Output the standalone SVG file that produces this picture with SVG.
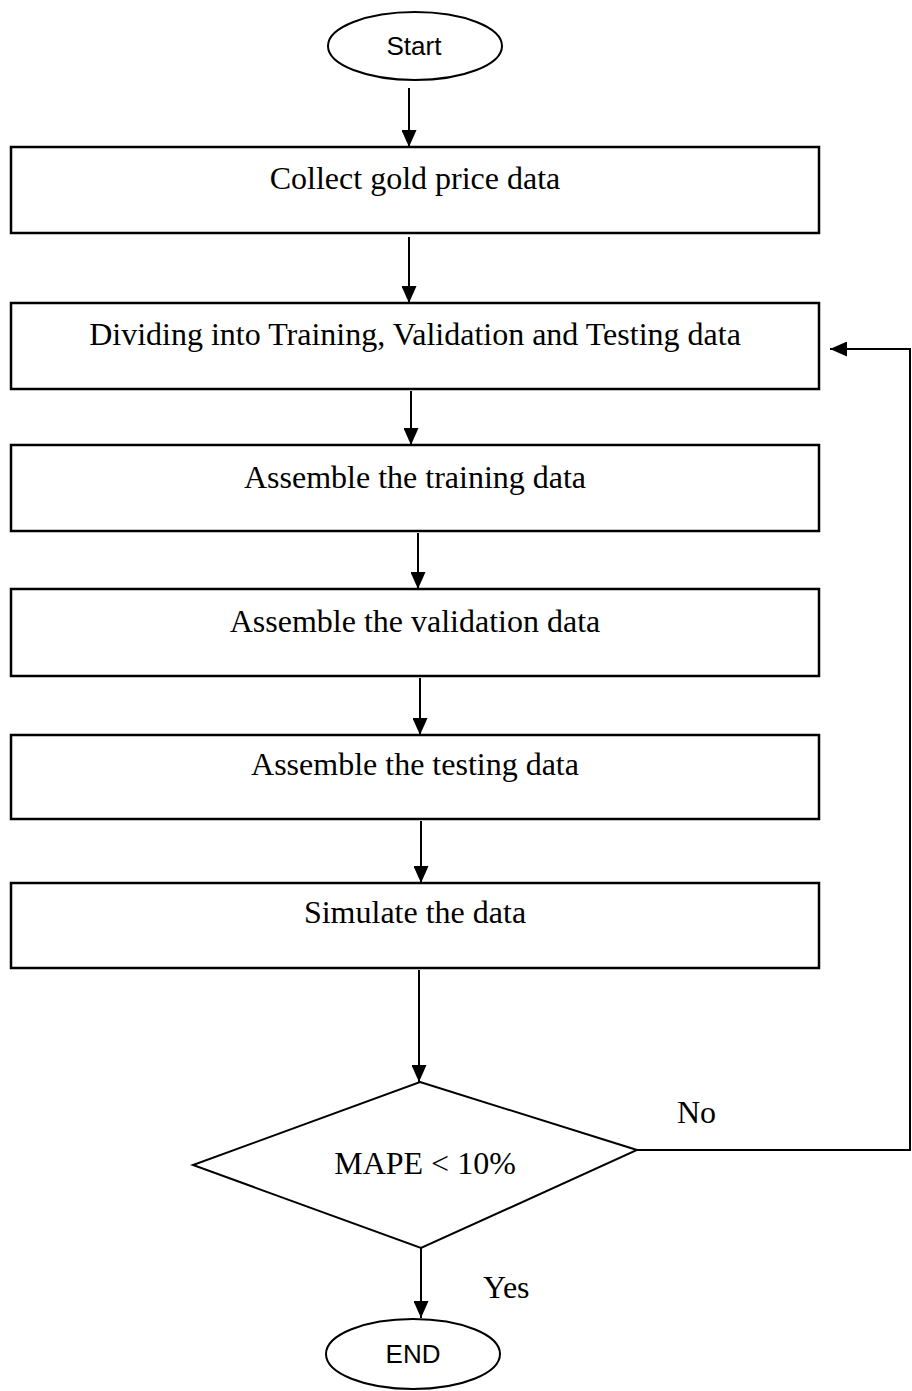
<svg xmlns="http://www.w3.org/2000/svg" width="912" height="1391" viewBox="0 0 912 1391">
<style>
.box{fill:#fff;stroke:#000;stroke-width:2.5}
.term{fill:#fff;stroke:#000;stroke-width:2}
.t{font-family:"Liberation Serif","Times New Roman",serif;font-size:32px;fill:#000;text-anchor:middle}
.s{font-family:"Liberation Sans",Arial,sans-serif;font-size:26px;fill:#000;text-anchor:middle}
.c{fill:none;stroke:#000;stroke-width:2}
</style>
<defs>
<marker id="ah" markerUnits="userSpaceOnUse" markerWidth="17" markerHeight="15" refX="17" refY="7.5" orient="auto">
<path d="M0,0 L17,7.5 L0,15 z" fill="#000"/>
</marker>
</defs>
<rect width="912" height="1391" fill="#fff"/>
<g id="connectors">
<line class="c" x1="409" y1="88" x2="409" y2="147" marker-end="url(#ah)"/>
<line class="c" x1="409" y1="237" x2="409" y2="303" marker-end="url(#ah)"/>
<line class="c" x1="411" y1="391" x2="411" y2="445" marker-end="url(#ah)"/>
<line class="c" x1="418" y1="533" x2="418" y2="589" marker-end="url(#ah)"/>
<line class="c" x1="420" y1="678" x2="420" y2="735" marker-end="url(#ah)"/>
<line class="c" x1="421" y1="821" x2="421" y2="883" marker-end="url(#ah)"/>
<line class="c" x1="419" y1="970" x2="419" y2="1082" marker-end="url(#ah)"/>
<line class="c" x1="421" y1="1248" x2="421" y2="1318" marker-end="url(#ah)"/>
<polyline class="c" points="637,1150 910,1150 910,349 830,349" marker-end="url(#ah)"/>
<text class="t" x="677" y="1123" style="text-anchor:start">No</text>
<text class="t" x="483" y="1298" style="text-anchor:start">Yes</text>
</g>
<g id="start">
<ellipse class="term" cx="415" cy="46" rx="87" ry="34"/>
<text class="s" x="414" y="55">Start</text>
</g>
<g id="collect">
<rect class="box" x="11" y="147" width="808" height="86"/>
<text class="t" x="415" y="189">Collect gold price data</text>
</g>
<g id="divide">
<rect class="box" x="11" y="303" width="808" height="86"/>
<text class="t" x="415" y="345">Dividing into Training, Validation and Testing data</text>
</g>
<g id="training">
<rect class="box" x="11" y="445" width="808" height="86"/>
<text class="t" x="415" y="488">Assemble the training data</text>
</g>
<g id="validation">
<rect class="box" x="11" y="589" width="808" height="87"/>
<text class="t" x="415" y="632">Assemble the validation data</text>
</g>
<g id="testing">
<rect class="box" x="11" y="735" width="808" height="84"/>
<text class="t" x="415" y="775">Assemble the testing data</text>
</g>
<g id="simulate">
<rect class="box" x="11" y="883" width="808" height="85"/>
<text class="t" x="415" y="923">Simulate the data</text>
</g>
<g id="decision">
<polygon class="term" points="420,1082 637,1150 421,1248 193,1165"/>
<text class="t" x="425" y="1174">MAPE &lt; 10%</text>
</g>
<g id="end">
<ellipse class="term" cx="413" cy="1354" rx="87" ry="35"/>
<text class="s" x="413" y="1363">END</text>
</g>
</svg>
